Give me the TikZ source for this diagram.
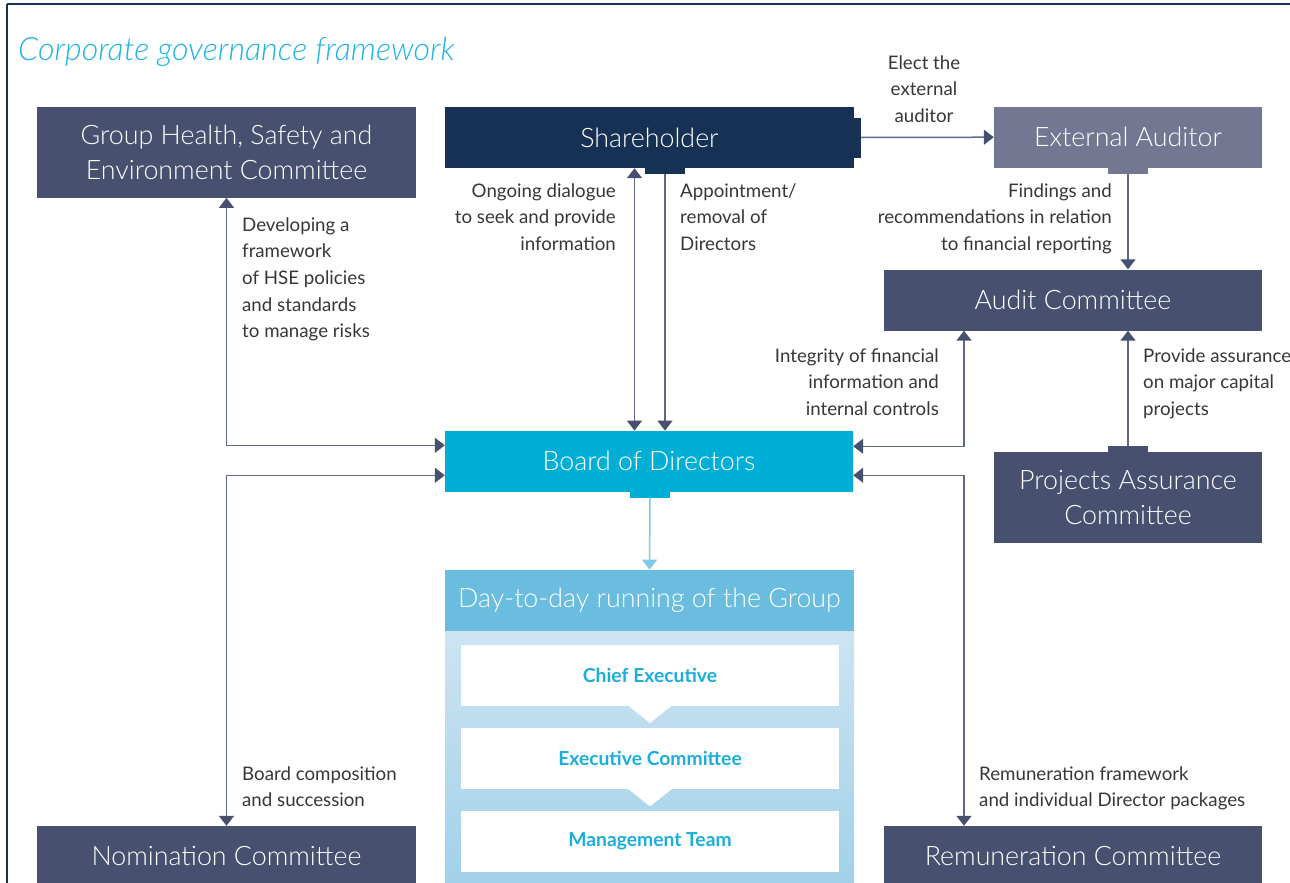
\documentclass[tikz,border=0pt]{standalone}
\usepackage{fontspec}
\setmainfont{Lato}
\newfontfamily\lightfont{Lato Light}
\usetikzlibrary{arrows.meta,calc}
\definecolor{slate}{RGB}{71,80,110}
\definecolor{navy}{RGB}{22,49,83}
\definecolor{extc}{RGB}{115,119,145}
\definecolor{boardc}{RGB}{0,174,214}
\definecolor{headc}{RGB}{107,189,224}
\definecolor{gradtop}{RGB}{205,228,242}
\definecolor{gradbot}{RGB}{161,209,233}
\definecolor{innertext}{RGB}{27,174,221}
\definecolor{titlec}{RGB}{30,180,228}
\definecolor{linec}{RGB}{96,104,136}
\definecolor{lblc}{RGB}{55,55,55}
\definecolor{lightarrow}{RGB}{128,200,230}
\begin{document}
\begin{tikzpicture}[x=1pt,y=-1pt,
  box/.style={inner sep=0pt, text=white, align=center, font=\lightfont\fontsize{26.8}{34.5}\selectfont},
  tabbox/.style={inner sep=0pt, minimum width=40pt, minimum height=6pt},
  inner/.style={fill=white, inner sep=0pt, minimum width=378pt, minimum height=61pt, text=innertext, font=\bfseries\fontsize{19.3}{22}\selectfont},
  lbl/.style={inner sep=0pt, text=lblc, font=\fontsize{18.7}{26.7}\selectfont},
  conn/.style={draw=linec, line width=1.5pt, >={Triangle[width=15pt,length=10pt,color=slate]}},
  lconn/.style={draw=lightarrow, line width=1.5pt, >={Triangle[width=15pt,length=10pt,color=lightarrow]}}
]
\clip (0,0) rectangle (1290,883);
\fill[white] (0,0) rectangle (1290,883);
% frame
\draw[navy, line width=2.5pt] (7,4) -- (1290,4);
\draw[navy, line width=1.2pt] (7,4) -- (7,883);
% title
\node[anchor=base west, inner sep=0pt, text=titlec, font=\lightfont\itshape\fontsize{32.2}{36}\selectfont] (title) at (18,61) {Corporate governance framework};

% boxes
\node[box, fill=slate, minimum width=379pt, minimum height=91pt] (hse) at (226.5,152.2) {Group Health, Safety and\\Environment Committee};
\node[box, fill=navy, minimum width=409pt, minimum height=61pt] (sh) at (649.5,137.5) {Shareholder};
\node[tabbox, fill=navy] (shtab) at (665,170.5) {};
\node[inner sep=0pt, fill=navy, minimum width=7pt, minimum height=40pt] (shrtab) at (857.5,137.5) {};
\node[box, fill=extc, minimum width=268pt, minimum height=61pt] (ext) at (1128,137.2) {External Auditor};
\node[tabbox, fill=extc] (exttab) at (1128,170.5) {};
\node[box, fill=slate, minimum width=378pt, minimum height=61pt] (audit) at (1073,300) {Audit Committee};
\node[box, fill=boardc, minimum width=408pt, minimum height=61pt] (board) at (649,461.3) {Board of Directors};
\node[tabbox, fill=boardc] (boardtab) at (650,494.7) {};
\node[box, fill=slate, minimum width=268pt, minimum height=91pt] (pac) at (1128,497.3) {Projects Assurance\\Committee};
\node[tabbox, fill=slate] (pactab) at (1128,449) {};
\node[box, fill=slate, minimum width=379pt, minimum height=60pt] (nom) at (226.5,856) {Nomination Committee};
\node[box, fill=slate, minimum width=378pt, minimum height=60pt] (rem) at (1073,856) {Remuneration Committee};

% day-to-day block
\shade[top color=gradtop, bottom color=gradbot] (445,630.7) rectangle (854,883);
\node[box, fill=headc, minimum width=409pt, minimum height=61pt] (day) at (649.5,600.3) {Day-to-day running of the Group};
\node[inner] (ce) at (650,675.3) {Chief Executive};
\node[inner] (ec) at (650,758.6) {Executive Committee};
\node[inner] (mt) at (650,841.4) {Management Team};
\fill[white] ($(ce.south)+(-22,-0.5)$) -- ($(ce.south)+(22,-0.5)$) -- ($(ce.south)+(0,17)$) -- cycle;
\fill[white] ($(ec.south)+(-22,-0.5)$) -- ($(ec.south)+(22,-0.5)$) -- ($(ec.south)+(0,17)$) -- cycle;

% connectors
\coordinate (xa) at (634.5,0);
\coordinate (xr) at (964,0);
\draw[conn,->] (shrtab.east) -- (ext.west);
\draw[conn,->] (exttab.south) -- (exttab.south |- audit.north);
\draw[conn,<->] (xa |- sh.south) -- (xa |- board.north);
\draw[conn,->] (shtab.south) -- (shtab.south |- board.north);
\draw[conn,<->] (hse.south) |- ($(board.west)+(0,-16)$);
\draw[conn,<->] ($(board.west)+(0,14)$) -| (nom.north);
\draw[conn,<->] ($(board.east)+(0,-15)$) -| (xr |- audit.south);
\draw[conn,<->] ($(board.east)+(0,14)$) -| (xr |- rem.north);
\draw[conn,->] (pactab.north) -- (pactab.north |- audit.south);
\draw[lconn,->] (boardtab.south) -- (day.north);

% labels (base anchor = baseline of last line)
\node[lbl, anchor=base, align=center] (lelect) at (924,122.4) {Elect the\\external\\auditor};
\node[lbl, anchor=base east, align=right] (ldialog) at (616,250.4) {Ongoing dialogue\\to seek and provide\\information};
\node[lbl, anchor=base west, align=left] (lappoint) at (680,250.4) {Appointment/\\removal of\\Directors};
\node[lbl, anchor=base east, align=right] (lfind) at (1112,250.4) {Findings and\\recommendations in relation\\to financial reporting};
\node[lbl, anchor=base west, align=left] (lhse) at (242,337.8) {Developing a\\framework\\of HSE policies\\and standards\\to manage risks};
\node[lbl, anchor=base east, align=right] (linteg) at (939,415.4) {Integrity of financial\\information and\\internal controls};
\node[lbl, anchor=base west, align=left] (lprov) at (1143,415.4) {Provide assurance\\on major capital\\projects};
\node[lbl, anchor=base west, align=left] (lboard) at (242,806.7) {Board composition\\and succession};
\node[lbl, anchor=base west, align=left] (lrem) at (979,806.7) {Remuneration framework\\and individual Director packages};
\end{tikzpicture}
\end{document}
